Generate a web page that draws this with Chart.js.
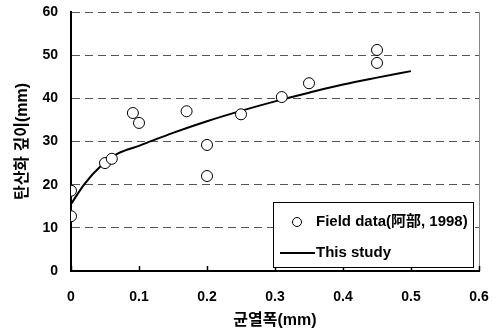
<!DOCTYPE html>
<html><head><meta charset="utf-8">
<script src="https://cdn.jsdelivr.net/npm/chart.js@4/dist/chart.umd.min.js"></script>
<style>html,body{margin:0;padding:0;background:#fff}#wrap{width:498px;height:335px}</style>
</head><body><div id="wrap"><canvas id="c" width="498" height="335"></canvas></div>
<script>
const fieldX = [0, 0, 0.05, 0.06, 0.091, 0.10, 0.17, 0.20, 0.20, 0.25, 0.31, 0.35, 0.45, 0.45];
const fieldY = [18.6, 12.7, 25.0, 26.0, 36.6, 34.3, 37.0, 29.2, 22.0, 36.3, 40.3, 43.5, 51.2, 48.2];
const studyX = [0, 0.02, 0.045, 0.06, 0.07, 0.10, 0.15, 0.20, 0.25, 0.30, 0.35, 0.40, 0.45, 0.50];
const studyY = [15.5, 20.2, 24.5, 26.3, 27.3, 29.0, 32.0, 34.7, 37.1, 39.3, 41.3, 43.2, 44.8, 46.3];
const xTicks = [0, 0.1, 0.2, 0.3, 0.4, 0.5, 0.6];
const yTicks = [0, 10, 20, 30, 40, 50, 60];
const legendLabels = ['Field data(阿部, 1998)', 'This study'];
const xTitle = '균열폭(mm)';
const yTitle = '탄산화 깊이(mm)';

const FONT = "'Liberation Sans', Arial, 'Noto Sans CJK KR', sans-serif";

const frame = {
  id: 'frame',
  afterDraw(chart) {
    const {ctx, chartArea: a, scales: {x, y}} = chart;
    ctx.save();
    ctx.strokeStyle = '#888'; ctx.lineWidth = 1;
    ctx.beginPath(); ctx.moveTo(a.right + 0.5, a.top); ctx.lineTo(a.right + 0.5, a.bottom); ctx.stroke();
    ctx.strokeStyle = '#000'; ctx.lineWidth = 1.5;
    xTicks.forEach(v => {
      const px = Math.round(x.getPixelForValue(v)) + 0.5;
      ctx.beginPath(); ctx.moveTo(px, a.bottom); ctx.lineTo(px, a.bottom - 5); ctx.stroke();
    });
    const lx = 273, ly = 202, lw = 200, lh = 65;
    ctx.fillStyle = '#fff'; ctx.fillRect(lx, ly, lw, lh);
    ctx.strokeStyle = '#000'; ctx.lineWidth = 1;
    ctx.strokeRect(lx + 0.5, ly + 0.5, lw, lh);
    ctx.beginPath(); ctx.arc(297, 222, 4.5, 0, Math.PI * 2);
    ctx.fillStyle = '#fff'; ctx.fill(); ctx.strokeStyle = '#000'; ctx.lineWidth = 1; ctx.stroke();
    ctx.fillStyle = '#000'; ctx.font = 'bold 15px ' + FONT; ctx.textBaseline = 'middle'; ctx.textAlign = 'left';
    ctx.fillText(legendLabels[0], 316, 222);
    ctx.strokeStyle = '#000'; ctx.lineWidth = 2;
    ctx.beginPath(); ctx.moveTo(280, 253); ctx.lineTo(315, 253); ctx.stroke();
    ctx.fillText(legendLabels[1], 316, 253);
    ctx.restore();
  }
};

new Chart(document.getElementById('c'), {
  type: 'scatter',
  data: {
    datasets: [
      {
        label: legendLabels[1],
        data: studyX.map((v, i) => ({x: v, y: studyY[i]})),
        showLine: true, borderColor: '#000', borderWidth: 2, pointRadius: 0,
        cubicInterpolationMode: 'monotone', fill: false, order: 2
      },
      {
        label: legendLabels[0],
        data: fieldX.map((v, i) => ({x: v, y: fieldY[i]})),
        pointRadius: 5.5, pointBackgroundColor: '#fff', pointBorderColor: '#000',
        pointBorderWidth: 1, showLine: false, order: 1
      }
    ]
  },
  options: {
    responsive: false, animation: false, devicePixelRatio: 1,
    layout: {padding: {left: 8, top: 12, right: 19, bottom: 4}},
    plugins: {legend: {display: false}, tooltip: {enabled: false}},
    scales: {
      x: {
        type: 'linear', min: 0, max: 0.6,
        afterBuildTicks(s) { s.ticks = xTicks.map(v => ({value: v})); },
        afterFit(s) { s.height = 60; },
        grid: {display: true, drawOnChartArea: false, drawTicks: true, tickLength: 18, tickColor: 'rgba(0,0,0,0)'},
        border: {display: true, color: '#000', width: 2},
        ticks: {color: '#000', font: {family: FONT, weight: 'bold', size: 14}, padding: 0,
          callback: v => String(v)},
        title: {display: true, text: xTitle, color: '#000', font: {family: FONT, weight: 'bold', size: 16}, padding: {top: 2, bottom: 1}}
      },
      y: {
        type: 'linear', min: 0, max: 60,
        afterBuildTicks(s) { s.ticks = yTicks.map(v => ({value: v})); },
        afterFit(s) { s.width = 63; },
        grid: {
          color: ctx => (ctx.tick && ctx.tick.value === 0) ? 'rgba(0,0,0,0)' : '#555',
          lineWidth: 1, drawTicks: true, tickLength: 13, tickColor: 'rgba(0,0,0,0)'
        },
        border: {display: true, color: '#000', width: 2, dash: [8, 5]},
        ticks: {color: '#000', font: {family: FONT, weight: 'bold', size: 14}, padding: 0},
        title: {display: true, text: yTitle, color: '#000', font: {family: FONT, weight: 'bold', size: 16}, padding: {top: 5, bottom: 0}}
      }
    }
  },
  plugins: [frame]
});
</script></body></html>
